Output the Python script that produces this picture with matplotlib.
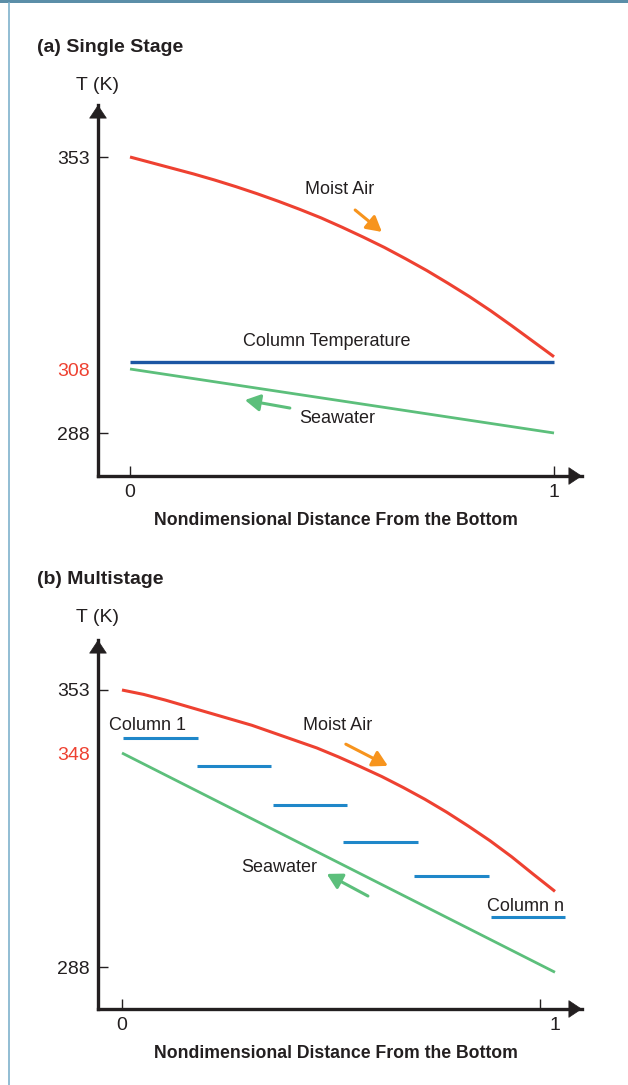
import numpy as np
import matplotlib
matplotlib.use("Agg")
import matplotlib.pyplot as plt
from matplotlib.patches import Rectangle
from matplotlib.lines import Line2D
from matplotlib.ticker import FixedLocator, NullLocator

plt.rcParams['font.family'] = ['Liberation Sans', 'DejaVu Sans']

# (a) single stage profiles, temperature in K along nondimensional height
dist_a = [0.0, 0.05, 0.1, 0.15, 0.2, 0.25, 0.3, 0.35, 0.4, 0.45, 0.5,
          0.55, 0.6, 0.65, 0.7, 0.75, 0.8, 0.85, 0.9, 0.95, 1.0]
moist_air_a = [353.0, 351.8, 350.6, 349.4, 348.1, 346.7, 345.2, 343.6, 341.9, 340.1, 338.1,
               336.0, 333.8, 331.4, 328.9, 326.2, 323.4, 320.4, 317.2, 313.9, 310.6]
column_temp_a = 309.5
seawater_a = [308.0, 288.0]
ticks_a = [288, 308, 353]

# (b) multistage profiles
dist_b = [0.0, 0.05, 0.1, 0.15, 0.2, 0.25, 0.3, 0.35, 0.4, 0.45, 0.5,
          0.55, 0.6, 0.65, 0.7, 0.75, 0.8, 0.85, 0.9, 0.95, 1.0]
moist_air_b = [353.0, 352.65, 352.2, 351.7, 351.2, 350.7, 350.2, 349.6, 349.0, 348.4, 346.9,
               344.2, 341.4, 338.3, 335.0, 331.4, 327.5, 323.4, 318.9, 314.0, 309.2]
seawater_b = [348.0, 287.0]
stage_start = [0.002, 0.173, 0.349, 0.510, 0.674, 0.852]
stage_end = [0.176, 0.344, 0.520, 0.684, 0.848, 1.023]
stage_temp = [349.2, 344.4, 333.3, 323.1, 313.5, 302.0]
ticks_b = [288, 348, 353]

RED = '#ee4131'
GREEN = '#5cbf7b'
ORANGE = '#f7941d'
DARK_BLUE = '#1c56a3'
BLUE = '#1f87c9'
INK = '#231f20'

W, H = 628, 1085
fig = plt.figure(figsize=(W / 100, H / 100), dpi=100)

# frame: top bar and thin left rule
fig.add_artist(Rectangle((0, 1 - 3 / H), 1, 3 / H, transform=fig.transFigure,
                         color='#5b8ea8', lw=0))
fig.add_artist(Line2D([9 / W, 9 / W], [0, 1 - 3 / H], transform=fig.transFigure,
                      color='#7fb2cc', lw=1.2))


def schematic_scale(temps, positions):
    # piecewise-linear temperature axis, as in the schematic
    fwd = lambda t: np.interp(t, temps, positions)
    inv = lambda p: np.interp(p, positions, temps)
    return fwd, inv


def make_axes(top_px, bottom_px, xlim, anchors_t, anchors_p, yticks, red_tick):
    ax = fig.add_axes([98 / W, 1 - bottom_px / H, (582 - 98) / W, (bottom_px - top_px) / H])
    ax.set_yscale('function', functions=schematic_scale(anchors_t, anchors_p))
    ax.set_xlim(*xlim)
    ax.set_ylim(anchors_t[0], anchors_t[-1])
    for side in ['top', 'right']:
        ax.spines[side].set_visible(False)
    for side in ['left', 'bottom']:
        ax.spines[side].set_linewidth(2.4)
        ax.spines[side].set_color(INK)
        ax.spines[side].set_capstyle('projecting')
    ax.patch.set_alpha(0)

    ax.set_yticks(yticks, [str(t) for t in yticks])
    ax.yaxis.set_minor_locator(NullLocator())
    ax.tick_params(axis='both', which='both', direction='in', length=7, width=1,
                   color=INK, labelsize=14, labelcolor=INK)
    ax.tick_params(axis='y', pad=6)
    ax.tick_params(axis='x', pad=6)
    i = yticks.index(red_tick)
    ax.yaxis.get_major_ticks()[i].tick1line.set_visible(False)
    ax.get_yticklabels()[i].set_color(RED)

    # arrow heads on the axes
    head = dict(arrowstyle='-|>,head_length=0.9,head_width=0.6', color=INK,
                lw=0.5, shrinkA=0, shrinkB=0, mutation_scale=10)
    ax.annotate('', xy=(0, 1), xytext=(0, 0.96), xycoords='axes fraction',
                arrowprops=head, annotation_clip=False)
    ax.annotate('', xy=(1, 0), xytext=(0.97, 0), xycoords='axes fraction',
                arrowprops=head, annotation_clip=False)
    return ax


def flow_arrow(ax, tail, tip, color):
    ax.annotate('', xy=tip, xytext=tail,
                arrowprops=dict(arrowstyle='-|>,head_length=0.75,head_width=0.42',
                                color=color, lw=2.2, shrinkA=0, shrinkB=0,
                                mutation_scale=12))


label_kw = dict(fontsize=13, color=INK, ha='center', va='center')
title_kw = dict(fontsize=14, fontweight='bold', color=INK, ha='left', va='center')
xlabel_kw = dict(fontsize=12.7, fontweight='bold', color=INK, ha='center', va='center')

# ---------- (a) Single Stage ----------
ax1 = make_axes(105, 476, (-0.0755, 1.066), [280, 288, 308, 353, 370],
                [-43, 0, 64, 276, 328], ticks_a, 308)
ax1.set_xticks([0, 1], ['0', '1'])
ax1.plot(dist_a, moist_air_a, color=RED, lw=2.2, solid_capstyle='butt')
ax1.plot([0, 1], [column_temp_a, column_temp_a], color=DARK_BLUE, lw=2.4,
         solid_capstyle='butt')
ax1.plot([0, 1], seawater_a, color=GREEN, lw=2.0, solid_capstyle='butt')
ax1.text(0.495, 346.0, 'Moist Air', **label_kw)
flow_arrow(ax1, (0.531, 341.75), (0.594, 337.1), ORANGE)
ax1.text(0.465, 313.9, 'Column Temperature', **label_kw)
ax1.text(0.488, 292.4, 'Seawater', **label_kw)
flow_arrow(ax1, (0.377, 295.8), (0.271, 298.3), GREEN)

fig.text(37 / W, 1 - 47 / H, '(a) Single Stage', **title_kw)
fig.text(98 / W, 1 - 85 / H, 'T (K)', fontsize=14, color=INK, ha='center', va='center')
fig.text(336 / W, 1 - 521 / H, 'Nondimensional Distance From the Bottom', **xlabel_kw)

# ---------- (b) Multistage ----------
ax2 = make_axes(640, 1009, (-0.0554, 1.0624), [280, 288, 348, 353, 370],
                [-42, 0, 214, 277, 327], ticks_b, 348)
ax2.set_xticks([0, 1], ['0', '1'])
ax2.xaxis.get_major_ticks()[1].tick1line.set_visible(False)
ax2.xaxis.set_minor_locator(FixedLocator([0.965]))
ax2.plot(dist_b, moist_air_b, color=RED, lw=2.2, solid_capstyle='butt')
ax2.plot([0, 1], seawater_b, color=GREEN, lw=2.0, solid_capstyle='butt')
for x0, x1, t in zip(stage_start, stage_end, stage_temp):
    ax2.plot([x0, x1], [t, t], color=BLUE, lw=2.2, solid_capstyle='butt', clip_on=False)
ax2.text(0.060, 350.2, 'Column 1', **label_kw)
ax2.text(0.931, 305.1, 'Column n', **label_kw)
ax2.text(0.497, 350.2, 'Moist Air', **label_kw)
flow_arrow(ax2, (0.517, 348.7), (0.614, 344.4), ORANGE)
ax2.text(0.363, 315.8, 'Seawater', **label_kw)
flow_arrow(ax2, (0.568, 307.9), (0.473, 314.1), GREEN)

fig.text(37 / W, 1 - 580 / H, '(b) Multistage', **title_kw)
fig.text(98 / W, 1 - 618 / H, 'T (K)', fontsize=14, color=INK, ha='center', va='center')
fig.text(336 / W, 1 - 1053 / H, 'Nondimensional Distance From the Bottom', **xlabel_kw)

fig.savefig('out.png', dpi=100)
